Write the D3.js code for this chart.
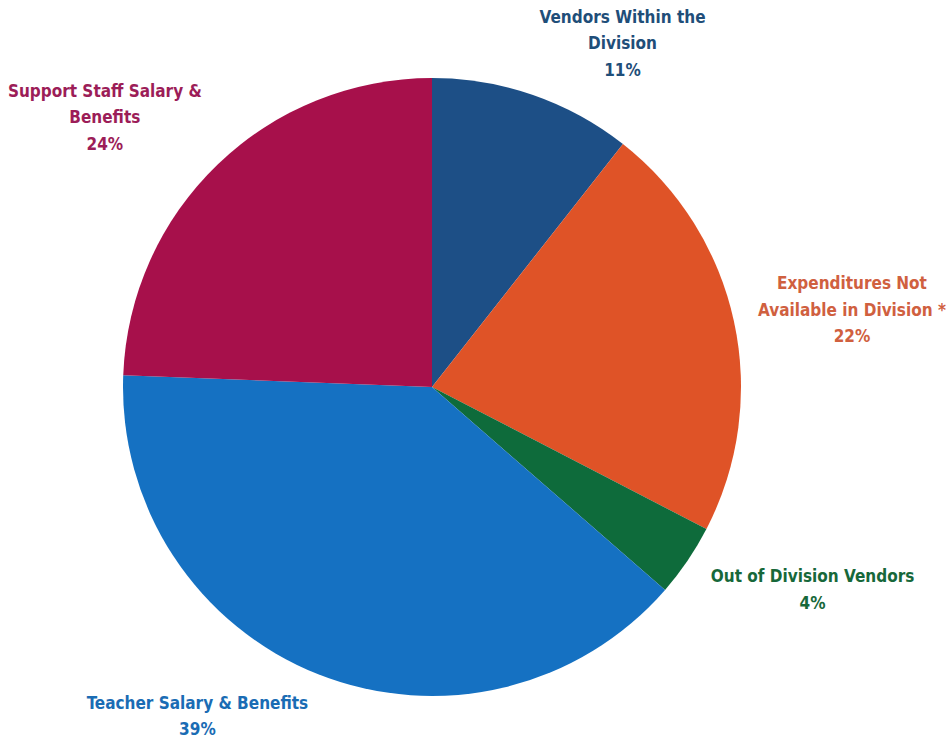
<!DOCTYPE html>
<html>
<head>
<meta charset="utf-8">
<script src="https://cdn.jsdelivr.net/npm/d3@7"></script>
<style>
  body { margin: 0; background: #fff; }
  text { font-family: "Liberation Sans Narrow", "DejaVu Sans Condensed", sans-serif; font-weight: bold; }
</style>
</head>
<body>
<div id="chart"></div>
<script>
// slice data (percent), clockwise from 12 o'clock
var categories = ["Vendors Within the Division", "Expenditures Not Available in Division *",
                  "Out of Division Vendors", "Teacher Salary & Benefits", "Support Staff Salary & Benefits"];
var values = [10.6, 22.0, 3.8, 39.2, 24.4];
var labelLines = [
    ["Vendors Within the", "Division", "11%"],
    ["Expenditures Not", "Available in Division *", "22%"],
    ["Out of Division Vendors", "4%"],
    ["Teacher Salary & Benefits", "39%"],
    ["Support Staff Salary &", "Benefits", "24%"]
];

var width = 950, height = 740;
var cx = 432, cy = 387, radius = 309;

var fills = ["#1d4f86", "#df5327", "#0e6b3b", "#1571c2", "#a7104b"];
var textColors = ["#1f4e79", "#d0603f", "#17683a", "#1a6cb4", "#9c1d58"];

// label block placement: [angle in degrees from top, distance from centre]
var labelPolar = [[29, 393], [79.6, 427], [118, 431], [215.5, 404], [309.5, 424]];

var svg = d3.select("#chart").append("svg")
    .attr("width", width)
    .attr("height", height);

var g = svg.append("g")
    .attr("transform", "translate(" + cx + "," + cy + ")");

var pie = d3.pie().sort(null).value(function(d) { return d; });
var arc = d3.arc().innerRadius(0).outerRadius(radius);

var arcs = pie(values);

g.selectAll("path.slice")
    .data(arcs)
    .enter().append("path")
    .attr("class", "slice")
    .attr("d", arc)
    .attr("fill", function(d, i) { return fills[i]; });

var lineH = 26.5;

var labels = g.selectAll("g.label")
    .data(arcs)
    .enter().append("g")
    .attr("class", "label")
    .attr("transform", function(d, i) {
        var p = d3.pointRadial(labelPolar[i][0] * Math.PI / 180, labelPolar[i][1]);
        return "translate(" + p[0] + "," + p[1] + ")";
    });

labels.each(function(d, i) {
    var lines = labelLines[i];
    var top = -(lines.length - 1) * lineH / 2;
    d3.select(this).selectAll("text")
        .data(lines)
        .enter().append("text")
        .attr("text-anchor", "middle")
        .attr("dominant-baseline", "central")
        .attr("y", function(t, j) { return top + j * lineH; })
        .attr("fill", textColors[i])
        .style("font-size", "17px")
        .text(function(t) { return t; });
});
</script>
</body>
</html>
